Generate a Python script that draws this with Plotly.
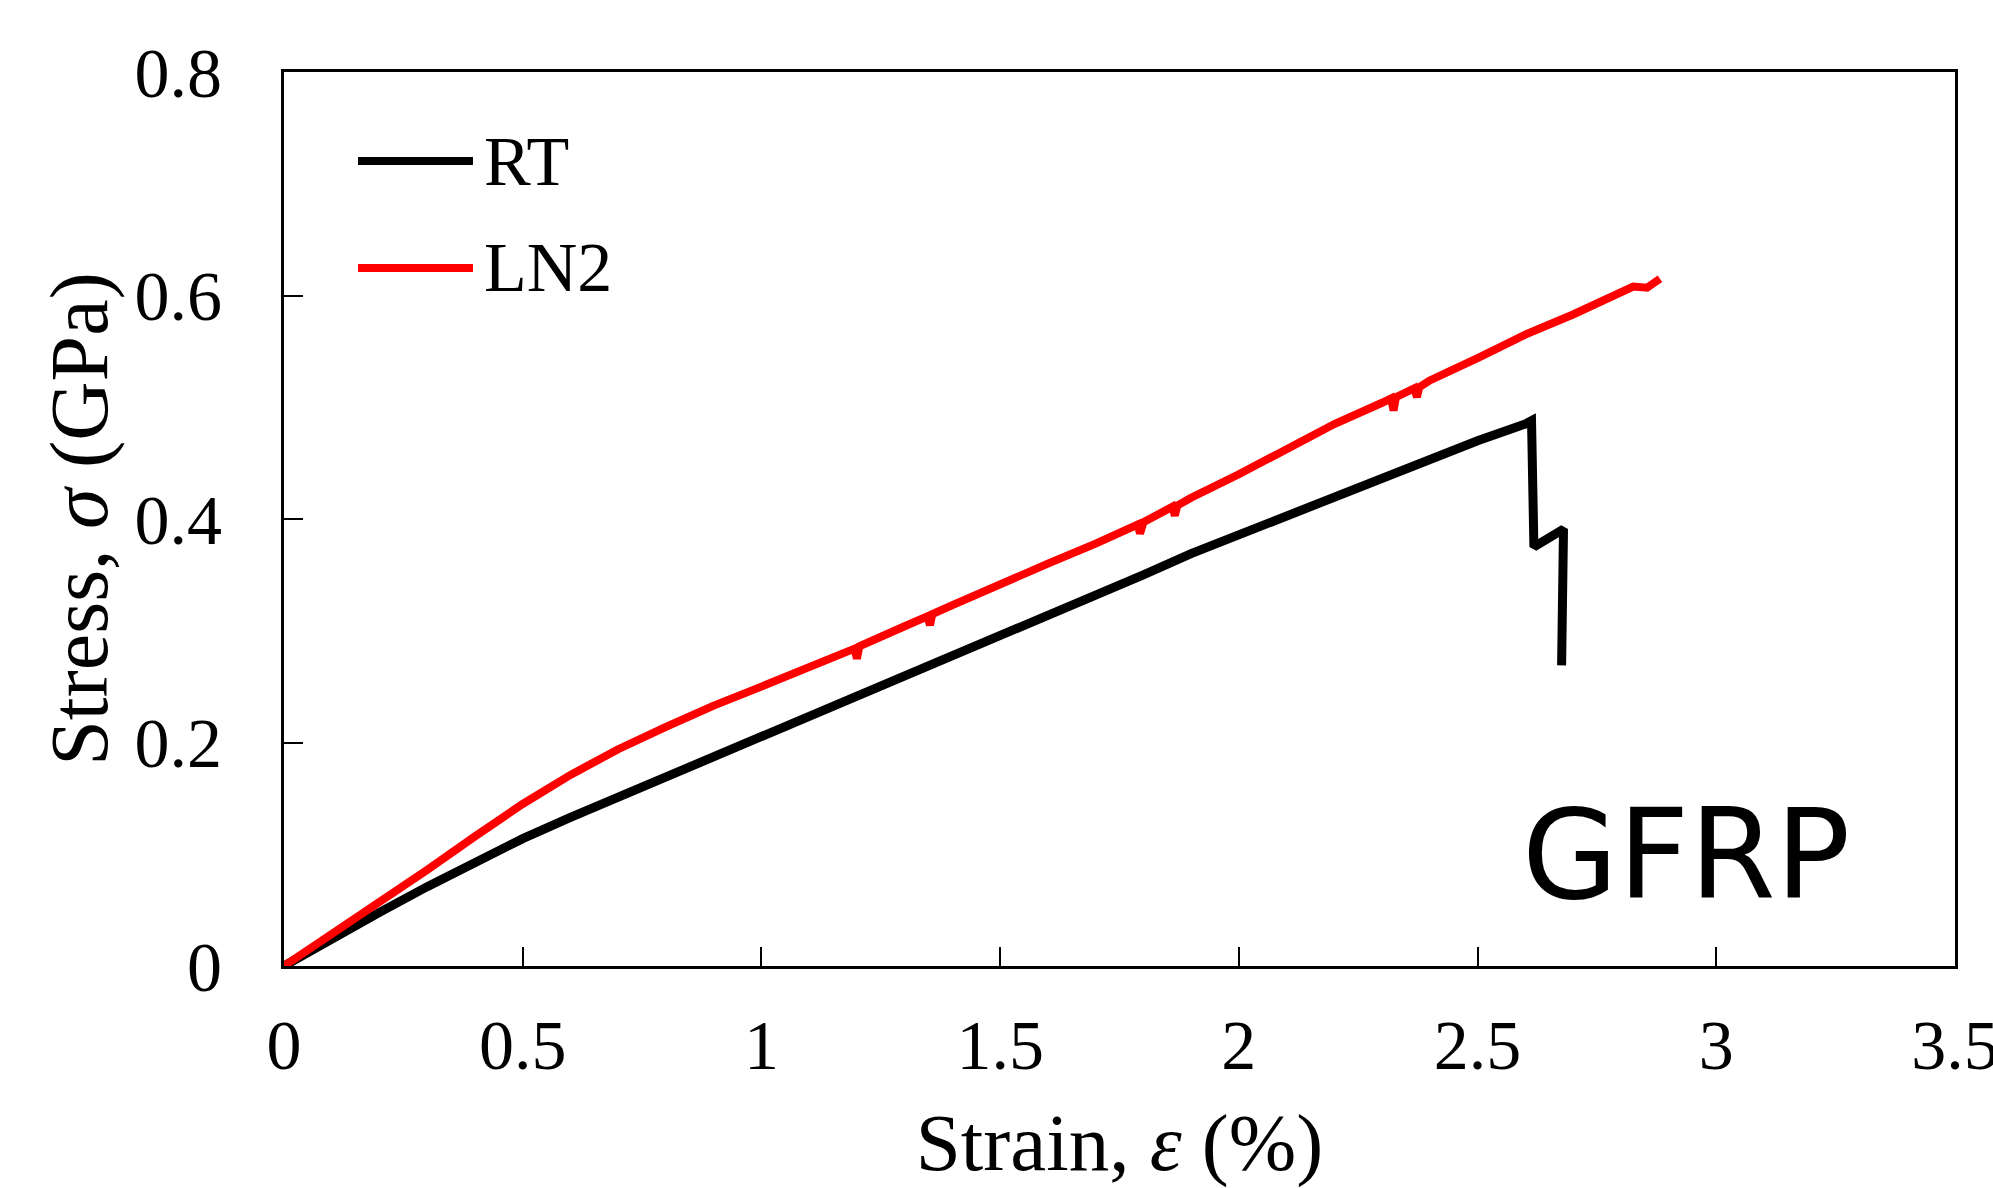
import plotly.graph_objects as go

# ---- data ----
rt_strain = [0, 0.1, 0.2, 0.3, 0.4, 0.5, 0.6, 0.7, 0.8, 0.9, 1.0, 1.1, 1.2, 1.3, 1.4,
             1.5, 1.6, 1.7, 1.8, 1.9, 2.0, 2.1, 2.2, 2.3, 2.4, 2.5, 2.6, 2.613,
             2.618, 2.68, 2.676]
rt_stress = [0, 0.025, 0.048, 0.071, 0.093, 0.114, 0.133, 0.151, 0.169, 0.187, 0.205,
             0.222, 0.240, 0.258, 0.276, 0.295, 0.313, 0.331, 0.350, 0.369, 0.386,
             0.402, 0.418, 0.435, 0.453, 0.470, 0.485, 0.488,
             0.375, 0.391, 0.269]

ln2_strain = [0, 0.1, 0.2, 0.3, 0.4, 0.5, 0.6, 0.7, 0.8, 0.9, 1.0, 1.1, 1.195, 1.2, 1.205,
              1.3, 1.348, 1.353, 1.358, 1.4, 1.5, 1.6, 1.7, 1.788, 1.793, 1.798, 1.8,
              1.861, 1.866, 1.871, 1.9, 2.0, 2.1, 2.2, 2.3, 2.319, 2.324, 2.329,
              2.368, 2.373, 2.378, 2.4, 2.5, 2.6, 2.7, 2.8, 2.826, 2.855, 2.882]
ln2_stress = [0, 0.028, 0.056, 0.086, 0.116, 0.145, 0.171, 0.194, 0.214, 0.233, 0.250,
              0.268, 0.284, 0.275, 0.286, 0.304, 0.313, 0.305, 0.315, 0.323, 0.342,
              0.360, 0.378, 0.395, 0.387, 0.397, 0.397, 0.411, 0.403, 0.412, 0.419,
              0.440, 0.463, 0.485, 0.504, 0.508, 0.497, 0.509, 0.517, 0.509, 0.518,
              0.524, 0.544, 0.565, 0.583, 0.602, 0.608, 0.607, 0.615]

x_ticks = [0, 0.5, 1, 1.5, 2, 2.5, 3, 3.5]
x_tick_labels = ["0", "0.5", "1", "1.5", "2", "2.5", "3", "3.5"]
y_ticks = [0, 0.2, 0.4, 0.6, 0.8]
y_tick_labels = ["0", "0.2", "0.4", "0.6", "0.8"]

series_names = ["RT", "LN2"]
series_colors = ["#000000", "#ff0000"]

SERIF = "Liberation Serif, Times New Roman, serif"

fig = go.Figure()
fig.add_trace(go.Scatter(x=rt_strain, y=rt_stress, mode="lines", name=series_names[0],
                         line=dict(color=series_colors[0], width=9)))
fig.add_trace(go.Scatter(x=ln2_strain, y=ln2_stress, mode="lines", name=series_names[1],
                         line=dict(color=series_colors[1], width=8)))

axis_common = dict(
    showline=True, linecolor="black", linewidth=3, mirror=True,
    showgrid=False, zeroline=False,
    ticks="inside", ticklen=19, tickwidth=2, tickcolor="black",
    ticklabeloverflow="allow",
    tickfont=dict(family=SERIF, size=70, color="black"),
)

fig.update_layout(
    width=1993, height=1188,
    margin=dict(l=284, r=38, t=72, b=222, autoexpand=False),
    paper_bgcolor="white", plot_bgcolor="white",
    showlegend=False,
    xaxis=dict(range=[0, 3.5], tickvals=x_ticks, ticktext=x_tick_labels,
               ticklabelstandoff=16,
               title=dict(text="Strain, <i>ε</i> (%)", standoff=62,
                          font=dict(family=SERIF, size=81, color="black")),
               **axis_common),
    yaxis=dict(range=[0, 0.8], tickvals=y_ticks, ticktext=y_tick_labels,
               ticklabelstandoff=45,
               title=dict(text="Stress, <i>σ</i> (GPa)", standoff=0,
                          font=dict(family=SERIF, size=82, color="black")),
               **axis_common),
)

# manual legend (long sample lines as in the reference)
legend_y = [0.9004, 0.7808]
for name, color, yy in zip(series_names, series_colors, legend_y):
    fig.add_shape(type="line", xref="paper", yref="paper", x0=0.0443, x1=0.1131,
                  y0=yy, y1=yy, line=dict(color=color, width=8))
    fig.add_annotation(xref="paper", yref="paper", x=0.1185, y=yy, text=name,
                       showarrow=False, xanchor="left", yanchor="middle",
                       font=dict(family=SERIF, size=70, color="black"))

fig.add_annotation(xref="paper", yref="paper", x=0.839, y=0.124, text="GFRP",
                   showarrow=False, xanchor="center", yanchor="middle",
                   font=dict(family="DejaVu Sans", size=124, color="black"))

fig.write_html("out.html")
